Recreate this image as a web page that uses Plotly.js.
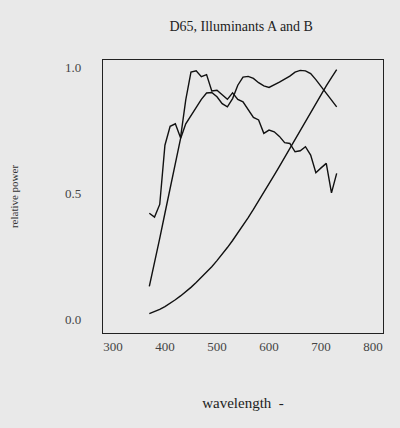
<!DOCTYPE html>
<html>
<head>
<meta charset="utf-8">
<script src="https://cdn.plot.ly/plotly-3.0.1.min.js"></script>
<style>html,body{margin:0;padding:0;background:#e9e9e9;}#chart{width:400px;height:428px;}</style>
</head>
<body>
<div id="chart"></div>
<script>
const wavelength = [370,380,390,400,410,420,430,440,450,460,470,480,490,500,510,520,530,540,550,560,570,580,590,600,610,620,630,640,650,660,670,680,690,700,710,720,730];
const d65 = [0.42,0.405,0.455,0.69,0.765,0.775,0.72,0.87,0.98,0.985,0.962,0.97,0.905,0.908,0.89,0.872,0.898,0.872,0.862,0.83,0.80,0.79,0.737,0.75,0.743,0.725,0.70,0.697,0.664,0.668,0.684,0.651,0.581,0.60,0.618,0.501,0.578];
const illumB = [0.13,0.22,0.32,0.42,0.52,0.62,0.716,0.775,0.808,0.84,0.872,0.897,0.899,0.882,0.855,0.842,0.875,0.928,0.96,0.963,0.955,0.938,0.925,0.919,0.928,0.94,0.952,0.964,0.98,0.987,0.985,0.974,0.95,0.923,0.895,0.868,0.842];
const illumA = [0.022,0.03,0.039,0.05,0.062,0.077,0.092,0.108,0.126,0.145,0.165,0.186,0.208,0.232,0.257,0.284,0.312,0.341,0.372,0.403,0.435,0.468,0.502,0.536,0.571,0.606,0.642,0.678,0.714,0.749,0.786,0.82,0.855,0.89,0.925,0.958,0.99];
const xTicks = [300,400,500,600,700,800];
const yTicks = [0.0,0.5,1.0];

const lineStyle = {color:'#111', width:1.4};
const traces = [
  {x:wavelength, y:d65, name:'D65', mode:'lines', line:lineStyle},
  {x:wavelength, y:illumB, name:'B', mode:'lines', line:lineStyle},
  {x:wavelength, y:illumA, name:'A', mode:'lines', line:lineStyle}
];
const serif = 'Liberation Serif, DejaVu Serif, serif';
const layout = {
  width:400, height:428,
  margin:{l:103, r:17, t:60, b:95},
  paper_bgcolor:'#e9e9e9', plot_bgcolor:'#e9e9e9',
  showlegend:false,
  font:{family:serif, color:'#333', size:11},
  title:{text:'D65, Illuminants A and B', x:0.603, xanchor:'center', y:0.94, yanchor:'middle', font:{family:serif, size:14, color:'#222'}},
  xaxis:{range:[281,819], tickvals:xTicks, ticktext:xTicks.map(String), showgrid:false, zeroline:false,
         showline:true, mirror:true, linecolor:'#222', linewidth:1.2,
         ticks:'outside', ticklen:1, tickcolor:'rgba(0,0,0,0)',
         tickfont:{family:serif, size:13, color:'#444'},
         title:{text:'wavelength  -', standoff:44, font:{family:serif, size:15, color:'#222'}}},
  yaxis:{range:[-0.055,1.028], tickvals:yTicks, ticktext:yTicks.map(v=>v.toFixed(1)), showgrid:false, zeroline:false,
         showline:true, mirror:true, linecolor:'#222', linewidth:1.2,
         ticks:'outside', ticklen:18, tickcolor:'rgba(0,0,0,0)',
         tickfont:{family:serif, size:13, color:'#444'},
         title:{text:'relative power', standoff:44, font:{family:serif, size:11, color:'#333'}}}
};
Plotly.newPlot('chart', traces, layout, {displayModeBar:false, staticPlot:true});
</script>
</body>
</html>
